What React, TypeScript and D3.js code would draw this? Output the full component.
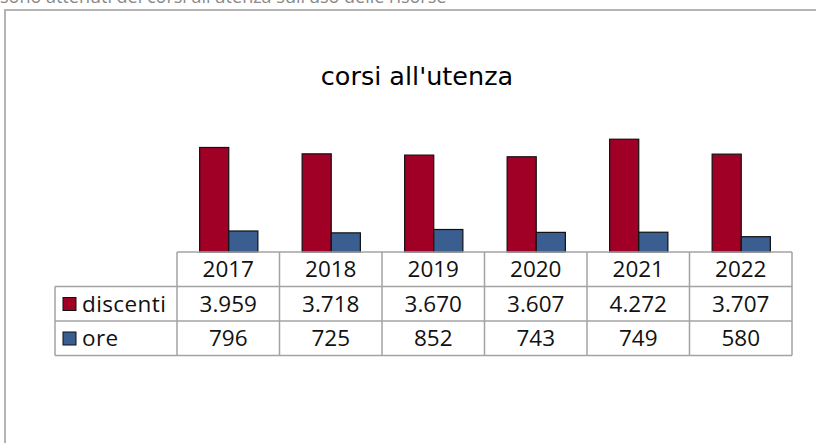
import React from "react";
import * as d3 from "d3";

const years = ["2017", "2018", "2019", "2020", "2021", "2022"];
const discenti = [3959, 3718, 3670, 3607, 4272, 3707];
const ore = [796, 725, 852, 743, 749, 580];
const seriesNames = ["discenti", "ore"];
const seriesColors = ["#a00026", "#3a5e8f"];
const title = "corsi all'utenza";
const caption = "sono attenuti dei corsi all'utenza sull'uso delle risorse";

const fmt = (v: number) => (v >= 1000 ? d3.format(",")(v).replace(/,/g, ".") : String(v));

export default function App() {
  const W = 816, H = 443;
  const font = "'Open Sans', sans-serif";
  const series = [discenti, ore];
  const x = d3.scaleBand<string>().domain(years).range([177, 792]).paddingInner(0).paddingOuter(0);
  const x1 = d3.scaleBand<string>().domain(seriesNames).range([0, x.bandwidth()]).paddingInner(0).paddingOuter(0.76);
  const y = d3.scaleLinear().domain([0, 5000]).range([252, 120]);
  const legendLeft = 55;
  const rowTop = [252, 286.5, 321];
  const rowH = 34.5;
  const tableBottom = rowTop[2] + rowH;
  const gridColor = "#a3a3a3";
  const fs = 22.5;

  return (
    <svg width={W} height={H} style={{ position: "absolute", left: 0, top: 0, background: "#fff" }}>
      <text x={0} y={3} fontFamily={font} fontSize={18} fill="#8a8a8a">{caption}</text>
      <rect x={5} y={10} width={W + 20} height={H + 20} fill="none" stroke="#b4b4b4" strokeWidth={2} />
      <text x={417} y={85} textAnchor="middle" fontFamily="'DejaVu Sans', sans-serif" fontSize={25.5} fill="#000">{title}</text>
      {years.map((yr, i) => (
        <g key={yr} transform={`translate(${x(yr)},0)`}>
          {series.map((s, j) => (
            <rect key={j} x={(x1(seriesNames[j]) as number) + 0.5} y={y(s[i])} width={x1.bandwidth()} height={y(0) - y(s[i])}
              fill={seriesColors[j]} stroke="#111" strokeWidth={1.2} />
          ))}
        </g>
      ))}
      {/* table */}
      <g stroke={gridColor} strokeWidth={1.5} fill="none">
        <line x1={x.range()[0]} x2={x.range()[1]} y1={rowTop[0]} y2={rowTop[0]} />
        <line x1={legendLeft} x2={x.range()[1]} y1={rowTop[1]} y2={rowTop[1]} />
        <line x1={legendLeft} x2={x.range()[1]} y1={rowTop[2]} y2={rowTop[2]} />
        <line x1={legendLeft} x2={x.range()[1]} y1={tableBottom} y2={tableBottom} />
        <line x1={legendLeft} x2={legendLeft} y1={rowTop[1]} y2={tableBottom} />
        {years.map((yr) => (
          <line key={yr} x1={x(yr)} x2={x(yr)} y1={rowTop[0]} y2={tableBottom} />
        ))}
        <line x1={x.range()[1]} x2={x.range()[1]} y1={rowTop[0]} y2={tableBottom} />
      </g>
      {years.map((yr) => (
        <text key={yr} x={(x(yr) as number) + x.bandwidth() / 2} y={rowTop[0] + 25} textAnchor="middle" fontFamily={font} fontSize={fs} fill="#111">{yr}</text>
      ))}
      {series.map((s, j) => (
        <g key={j}>
          <rect x={legendLeft + 8} y={rowTop[j + 1] + 11} width={13} height={13} fill={seriesColors[j]} stroke="#111" strokeWidth={1} />
          <text x={legendLeft + 27} y={rowTop[j + 1] + 25} fontFamily={font} fontSize={fs} letterSpacing={0.4} fill="#111">{seriesNames[j]}</text>
          {years.map((yr, i) => (
            <text key={yr} x={(x(yr) as number) + x.bandwidth() / 2} y={rowTop[j + 1] + 25} textAnchor="middle" fontFamily={font} fontSize={fs} fill="#111">{fmt(s[i])}</text>
          ))}
        </g>
      ))}
    </svg>
  );
}
